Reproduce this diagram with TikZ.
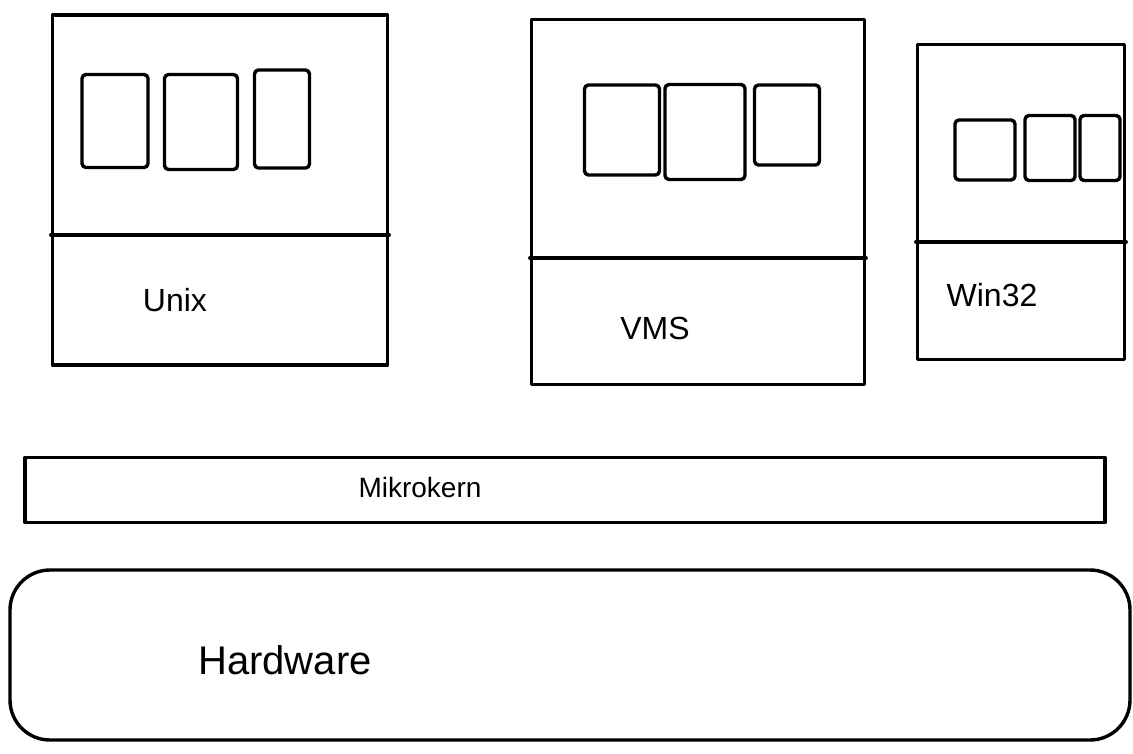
\documentclass[tikz,border=0pt]{standalone}
\usepackage{fontspec}
\setmainfont{Liberation Sans}
\usetikzlibrary{positioning}
\tikzset{
    sketch/.style={draw=black, line width=3.4pt, line join=round, line cap=round},
    osbox/.style={sketch, inner sep=0pt},
    procbox/.style={sketch, inner sep=0pt, rounded corners=4pt},
    oslabel/.style={font=\fontsize{32}{36}\selectfont},
}
\begin{document}
\begin{tikzpicture}[x=1pt, y=-1pt]
    \useasboundingbox (0,0) rectangle (1133,753);
    % operating system servers
    \node[osbox, minimum width=335pt, minimum height=350pt] (unix) at (220,190) {};
    \node[osbox, minimum width=333pt, minimum height=365pt] (vms) at (698,202) {};
    \node[osbox, minimum width=207pt, minimum height=315pt] (win) at (1021,202) {};
    \coordinate (unixdiv) at (0,235);
    \coordinate (vmsdiv) at (0,258);
    \coordinate (windiv) at (0,242);
    \draw[sketch] (unix.west |- unixdiv) -- (unix.east |- unixdiv);
    \draw[sketch] (vms.west |- vmsdiv) -- (vms.east |- vmsdiv);
    \draw[sketch] (win.west |- windiv) -- (win.east |- windiv);
    % processes
    \foreach \name/\x/\y/\w/\h in {
        unixa/115/121/66/93, unixb/201/122/73/95, unixc/282/119/55/98,
        vmsa/622/130/75/90, vmsb/705/132/80/95, vmsc/787/125/65/80,
        wina/985/150/60/60, winb/1050/148/50/65, winc/1100/148/40/65} {
        \node[procbox, minimum width=\w pt, minimum height=\h pt] (\name) at (\x,\y) {};
    }
    \node[oslabel] (unixlbl) at (175,300) {Unix};
    \node[oslabel] (vmslbl) at (655,328) {VMS};
    \node[oslabel] (winlbl) at (992,295) {Win32};
    % kernel and hardware
    \node[osbox, minimum width=1080pt, minimum height=65pt] (kern) at (565,490) {};
    \node[font=\fontsize{28}{32}\selectfont] (kernlbl) at (420,487) {Mikrokern};
    \node[sketch, rounded corners=40pt, minimum width=1120pt, minimum height=170pt,
        inner sep=0pt] (hw) at (570,655) {};
    \node[font=\fontsize{40}{44}\selectfont] (hwlbl) at (285,660) {Hardware};
\end{tikzpicture}
\end{document}
